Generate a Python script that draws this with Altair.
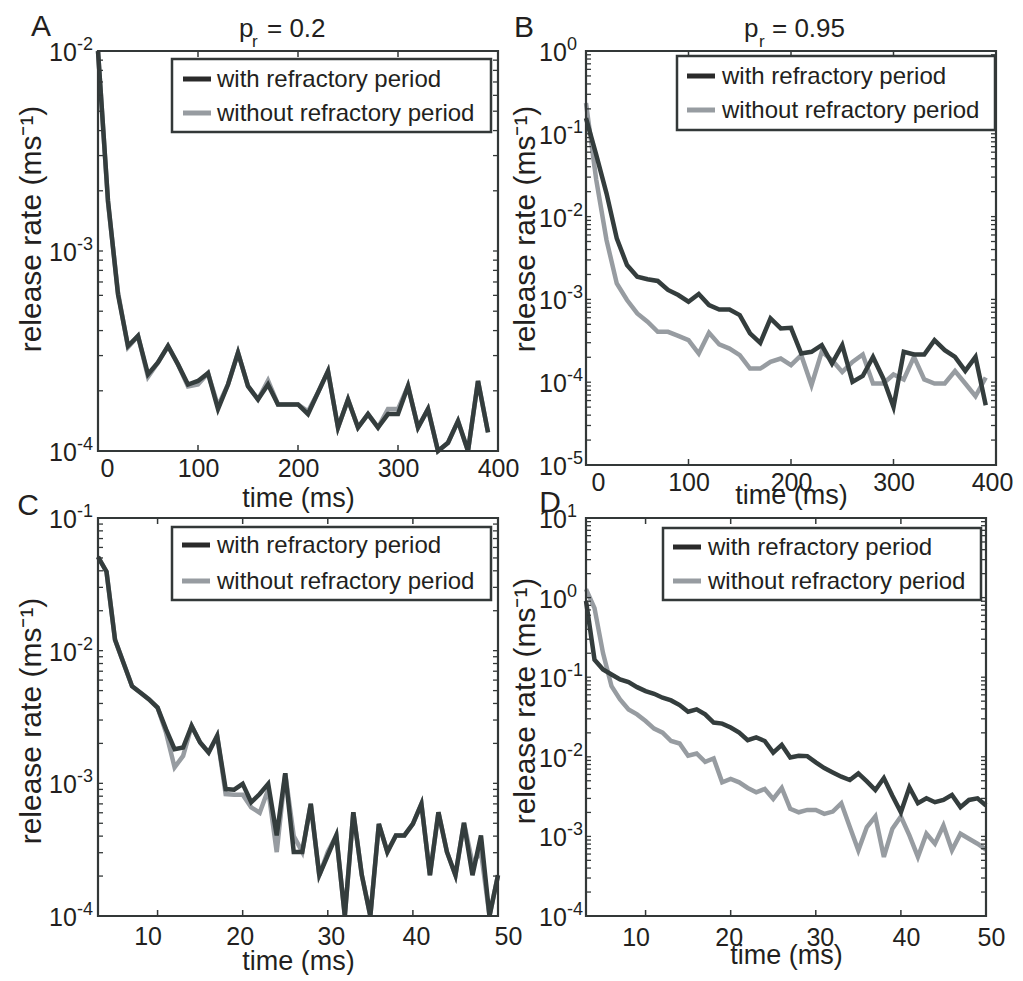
import altair as alt
import pandas as pd

FONT = "Liberation Sans"
INK = "#231f20"
DARK = "#343d3d"
GREY = "#979ca1"
FRAME = "#333838"
SYM_DARK = "#2a2a2a"

series_names = ["with refractory period", "without refractory period"]

# ---------------- data ----------------
a_time = list(range(0, 400, 10))
a_with = [1.0e-2, 1.78e-3, 6.07e-4, 3.35e-4, 3.76e-4, 2.42e-4, 2.77e-4, 3.35e-4, 2.71e-4, 2.15e-4,
          2.24e-4, 2.45e-4, 1.62e-4, 2.15e-4, 3.1e-4, 2.11e-4, 1.81e-4, 2.15e-4, 1.71e-4, 1.71e-4,
          1.71e-4, 1.53e-4, 1.96e-4, 2.51e-4, 1.31e-4, 1.81e-4, 1.31e-4, 1.53e-4, 1.31e-4, 1.53e-4,
          1.53e-4, 2.11e-4, 1.31e-4, 1.62e-4, 1.0e-4, 1.1e-4, 1.41e-4, 1.0e-4, 2.24e-4, 1.24e-4]
a_without = [1.0e-2, 1.75e-3, 6.2e-4, 3.3e-4, 3.76e-4, 2.35e-4, 2.77e-4, 3.35e-4, 2.71e-4, 2.1e-4,
             2.15e-4, 2.45e-4, 1.68e-4, 2.15e-4, 3.1e-4, 2.11e-4, 1.81e-4, 2.25e-4, 1.71e-4, 1.71e-4,
             1.71e-4, 1.58e-4, 1.96e-4, 2.51e-4, 1.31e-4, 1.81e-4, 1.31e-4, 1.53e-4, 1.31e-4, 1.62e-4,
             1.62e-4, 2.11e-4, 1.31e-4, 1.62e-4, 1.0e-4, 1.1e-4, 1.41e-4, 1.0e-4, 2.24e-4, 1.24e-4]

b_time = list(range(0, 400, 10))
b_with = [0.155, 0.0557, 0.0191, 5.47e-3, 2.6e-3, 1.88e-3, 1.75e-3, 1.67e-3, 1.3e-3, 1.13e-3,
          9.37e-4, 1.16e-3, 8.54e-4, 7.56e-4, 7.56e-4, 6.46e-4, 3.88e-4, 2.99e-4, 5.89e-4, 4.46e-4,
          4.54e-4, 2.22e-4, 2.33e-4, 2.8e-4, 1.68e-4, 2.8e-4, 1.01e-4, 1.19e-4, 2.02e-4, 1.11e-4,
          5.04e-5, 2.33e-4, 2.16e-4, 2.16e-4, 3.22e-4, 2.44e-4, 2.02e-4, 1.37e-4, 2.02e-4, 5.27e-5]
b_without = [0.235, 0.0278, 5.22e-3, 1.56e-3, 9.82e-4, 6.78e-4, 5.37e-4, 4.06e-4, 4.06e-4, 3.63e-4,
             3.22e-4, 2.22e-4, 3.95e-4, 2.86e-4, 2.55e-4, 2.12e-4, 1.46e-4, 1.46e-4, 1.76e-4, 1.93e-4,
             1.61e-4, 2.12e-4, 9.2e-5, 2.33e-4, 1.85e-4, 1.33e-4, 1.76e-4, 2.16e-4, 9.64e-5, 9.64e-5,
             1.24e-4, 1.08e-4, 2.02e-4, 1.08e-4, 9.64e-5, 9.64e-5, 1.36e-4, 9.64e-5, 6.77e-5, 1.14e-4]

c_time = list(range(3, 51))
c_with = [0.051, 0.0394, 0.0121, 8.08e-3, 5.4e-3, 4.81e-3, 4.29e-3, 3.72e-3, 2.55e-3, 1.81e-3,
          1.86e-3, 2.71e-3, 2.03e-3, 1.71e-3, 2.28e-3, 9.06e-4, 8.96e-4, 9.9e-4, 7.2e-4, 8.3e-4,
          9.9e-4, 4.05e-4, 1.19e-3, 3.04e-4, 3.04e-4, 7.0e-4, 2.03e-4, 2.87e-4, 4.05e-4, 1.0e-4,
          6.06e-4, 2.03e-4, 1.0e-4, 4.95e-4, 3.04e-4, 4.05e-4, 4.05e-4, 4.95e-4, 7.0e-4, 2.03e-4,
          6.06e-4, 3.04e-4, 2.03e-4, 5.04e-4, 2.03e-4, 4.05e-4, 1.0e-4, 2.03e-4]
c_without = [0.051, 0.0394, 0.0121, 8.08e-3, 5.4e-3, 4.81e-3, 4.29e-3, 3.72e-3, 2.4e-3, 1.32e-3,
             1.61e-3, 2.71e-3, 2.03e-3, 1.71e-3, 2.28e-3, 8.3e-4, 8.2e-4, 8.2e-4, 6.6e-4, 6.0e-4,
             9.0e-4, 3.03e-4, 1.19e-3, 4.0e-4, 3.04e-4, 7.0e-4, 2.03e-4, 3.04e-4, 4.05e-4, 1.0e-4,
             6.06e-4, 2.03e-4, 1.0e-4, 4.95e-4, 3.04e-4, 4.05e-4, 4.05e-4, 4.95e-4, 7.0e-4, 2.03e-4,
             6.06e-4, 3.04e-4, 2.03e-4, 5.04e-4, 2.5e-4, 3.04e-4, 1.0e-4, 2.03e-4]

d_time = list(range(3, 51))
d_with = [0.908, 0.166, 0.125, 0.108, 0.0935, 0.0866, 0.075, 0.0668, 0.0619, 0.0552,
          0.0511, 0.0447, 0.0369, 0.0394, 0.0341, 0.0269, 0.0261, 0.0233, 0.0201, 0.0162,
          0.0175, 0.0158, 0.0113, 0.0141, 9.82e-3, 0.0103, 0.0102, 8.5e-3, 7.22e-3, 6.37e-3,
          5.62e-3, 5.11e-3, 6.19e-3, 4.92e-3, 3.83e-3, 5.41e-3, 3.25e-3, 2.01e-3, 4.14e-3, 2.61e-3,
          3.01e-3, 2.69e-3, 2.87e-3, 3.32e-3, 2.33e-3, 2.87e-3, 3.01e-3, 2.44e-3]
d_without = [1.28, 0.736, 0.201, 0.0771, 0.0526, 0.0394, 0.0341, 0.0282, 0.0226, 0.0201,
             0.0158, 0.0147, 0.0103, 0.011, 8.66e-3, 9.53e-3, 4.78e-3, 5.26e-3, 4.78e-3, 4.06e-3,
             3.58e-3, 3.94e-3, 2.96e-3, 4.06e-3, 2.22e-3, 2.01e-3, 2.15e-3, 2.15e-3, 1.92e-3, 2.05e-3,
             2.61e-3, 1.31e-3, 6.68e-4, 1.31e-3, 1.78e-3, 5.52e-4, 1.25e-3, 1.78e-3, 1.03e-3, 5.52e-4,
             1.08e-3, 8.1e-4, 1.37e-3, 6.68e-4, 1.08e-3, 9.35e-4, 8.1e-4, 6.81e-4]

x_ticks_long = [0, 100, 200, 300, 400]
x_ticks_short = [10, 20, 30, 40, 50]


def one_row(**kw):
    return pd.DataFrame({k: [v] for k, v in kw.items()})


def panel(times, with_vals, without_vals, xdom, xticks, ylo, yhi, g):
    W, H = g["W"], g["H"]
    xscale = alt.Scale(domain=xdom, nice=False, zero=False)
    yscale = alt.Scale(type="log", domain=[10.0 ** ylo, 10.0 ** yhi], nice=False)
    cond = [{"test": f"datum.value === {v}", "value": o} for v, o in g["xoff"].items()]
    xaxis = alt.Axis(values=xticks, ticks=False, domain=False, grid=False,
                     labelFont=FONT, labelFontSize=25, labelColor=INK,
                     labelPadding=g["lp"], labelFlush=False,
                     labelOffset={"condition": cond, "value": 0},
                     title="time (ms)", titleFont=FONT, titleFontSize=27,
                     titleFontWeight="normal", titleColor=INK, titlePadding=g["tp"])
    X = alt.X("t:Q", scale=xscale, axis=xaxis)
    Y = alt.Y("rate:Q", scale=yscale, axis=None)

    df_wo = pd.DataFrame({"t": times, "rate": without_vals})
    df_w = pd.DataFrame({"t": times, "rate": with_vals})
    layers = [
        alt.Chart(df_wo).mark_line(color=GREY, strokeWidth=4.5, strokeJoin="miter").encode(x=X, y=Y),
        alt.Chart(df_w).mark_line(color=DARK, strokeWidth=4.5, strokeJoin="miter").encode(x=X, y=Y),
    ]

    majors = [10.0 ** e for e in range(ylo, yhi + 1)]
    minors = [m * 10.0 ** e for e in range(ylo, yhi) for m in range(2, 10)]
    df_yt = pd.DataFrame({"rate": majors + minors})
    for a, b in [(0, 5), (W - 5, W)]:
        layers.append(alt.Chart(df_yt).mark_rule(color=FRAME, strokeWidth=1.3).encode(
            y=Y, x=alt.value(a), x2=alt.value(b)))
    df_xt = pd.DataFrame({"t": xticks})
    for a, b in [(H - 6, H), (0, 6)]:
        layers.append(alt.Chart(df_xt).mark_rule(color=FRAME, strokeWidth=1.5).encode(
            x=X, y=alt.value(a), y2=alt.value(b)))

    # plot frame (box)
    layers.append(alt.Chart(one_row(label="frame")).mark_rect(
        fill="transparent", stroke=FRAME, strokeWidth=2.2).encode(
        x=alt.value(0), x2=alt.value(W), y=alt.value(0), y2=alt.value(H)))

    df_yl = pd.DataFrame({"rate": majors, "base": ["10"] * len(majors),
                          "exp": [str(e) for e in range(ylo, yhi + 1)]})
    layers.append(alt.Chart(df_yl).mark_text(align="left", baseline="middle", font=FONT,
                                             fontSize=25, color=INK, dy=2).encode(
        x=alt.value(g["lx"]), y=Y, text="base:N"))
    layers.append(alt.Chart(df_yl).mark_text(align="left", baseline="middle", font=FONT,
                                             fontSize=18, color=INK, dy=-6).encode(
        x=alt.value(g["lx"] + 28), y=Y, text="exp:N"))

    # y title
    layers.append(alt.Chart(one_row(label="release rate (ms⁻¹)")).mark_text(
        angle=270, align="center", baseline="middle", font=FONT, fontSize=30, color=INK).encode(
        x=alt.value(g["ytx"]), y=alt.value(g["yty"]), text="label:N"))

    # panel letter
    let, lx_, ly_ = g["letter"]
    layers.append(alt.Chart(one_row(label=let)).mark_text(
        align="center", baseline="middle", font=FONT, fontSize=30, color=INK).encode(
        x=alt.value(lx_), y=alt.value(ly_), text="label:N"))

    # panel title  p_r = value
    if g.get("title"):
        val, px, rx, ex = g["title"]
        for txt, xx, yy, fs in [("p", px, -14, 26), ("r", rx, -4, 17), ("= " + val, ex, -14, 26)]:
            layers.append(alt.Chart(one_row(label=txt)).mark_text(
                align="left", baseline="alphabetic", font=FONT, fontSize=fs, color=INK).encode(
                x=alt.value(xx), y=alt.value(yy), text="label:N"))

    # legend
    bl, br, bt, bb, sl, sr, r1, r2, tx = g["legend"]
    layers.append(alt.Chart(one_row(label="box")).mark_rect(
        fill="white", stroke=FRAME, strokeWidth=2.5).encode(
        x=alt.value(bl), x2=alt.value(br), y=alt.value(bt), y2=alt.value(bb)))
    for name, col, ry in [(series_names[0], SYM_DARK, r1), (series_names[1], GREY, r2)]:
        layers.append(alt.Chart(one_row(label=name)).mark_rule(color=col, strokeWidth=5).encode(
            x=alt.value(sl), x2=alt.value(sr), y=alt.value(ry)))
        layers.append(alt.Chart(one_row(label=name)).mark_text(
            align="left", baseline="middle", font=FONT, fontSize=24, color=INK).encode(
            x=alt.value(tx), y=alt.value(ry + 1), text="label:N"))

    return alt.layer(*layers).properties(width=W, height=H)


gA = dict(W=400, H=400, lx=-49, ytx=-66, yty=178, letter=("A", -57, -24),
          title=("0.2", 141, 154, 169), legend=(74, 393, 8, 81, 85, 113, 28, 62, 119),
          lp=5, tp=4, xoff={0: 9})
gB = dict(W=410, H=414, lx=-47, ytx=-60, yty=178, letter=("B", -62, -23),
          title=("0.95", 158, 173, 186), legend=(91, 409, 5, 79, 101, 129, 25, 59, 136),
          lp=5, tp=-13, xoff={0: 12, 400: -4})
gC = dict(W=400, H=398, lx=-49, ytx=-66, yty=203, letter=("C", -70, -12),
          legend=(74, 393, 9, 82, 84, 112, 27, 63, 119),
          lp=8, tp=-1, xoff={10: -10, 20: -3, 30: 3, 40: 3, 50: 10})
gD = dict(W=400, H=398, lx=-47, ytx=-60, yty=183, letter=("D", -36, -15),
          legend=(77, 395, 10, 82, 87, 115, 29, 63, 122),
          lp=9, tp=-8, xoff={10: -10, 20: -2, 30: 4, 40: 5, 50: 5})

pA = panel(a_time, a_with, a_without, [0, 400], x_ticks_long, -4, -2, gA)
pB = panel(b_time, b_with, b_without, [0, 400], x_ticks_long, -5, 0, gB)
pC = panel(c_time, c_with, c_without, [3, 50], x_ticks_short, -4, -1, gC)
pD = panel(d_time, d_with, d_without, [3, 50], x_ticks_short, -4, 1, gD)

chart = alt.concat(pA, pB, pC, pD, columns=2, spacing={"row": 53, "column": 88},
                   bounds="flush").properties(
    padding={"left": 8, "top": 3, "right": 0, "bottom": 0}
).configure_view(strokeWidth=0).configure(font=FONT)

chart.save("out.html", embed_options={"renderer": "svg", "actions": False})
